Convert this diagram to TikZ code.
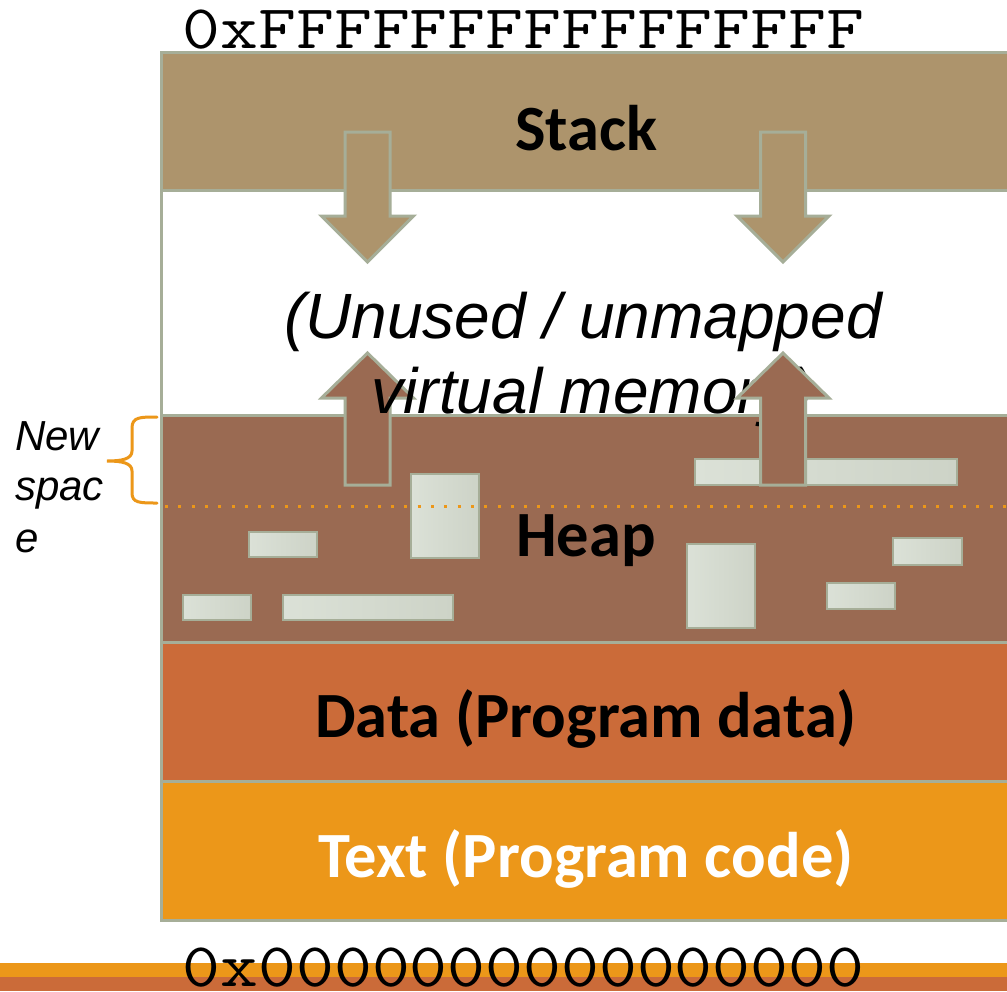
\documentclass[tikz,border=0pt]{standalone}
\usepackage{fontspec}
\newfontfamily\labelfont{Carlito}
\newfontfamily\notefont{Liberation Sans}

\definecolor{framegray}{RGB}{166,174,152}
\definecolor{stacktan}{RGB}{173,148,108}
\definecolor{heapbrown}{RGB}{154,106,82}
\definecolor{datarust}{RGB}{203,107,57}
\definecolor{codeorange}{RGB}{236,151,25}
\definecolor{chunklight}{RGB}{219,225,215}
\definecolor{chunkdark}{RGB}{205,211,199}

\tikzset{
  segment/.style={draw=framegray, line width=3pt},
  seglabel/.style={anchor=base, inner sep=0pt, font=\labelfont\bfseries\fontsize{64.5}{64.5}\selectfont},
  note/.style={anchor=base, inner sep=0pt, font=\notefont\itshape\fontsize{64}{72}\selectfont},
  sidenote/.style={anchor=base west, inner sep=0pt, font=\notefont\itshape\fontsize{42}{42}\selectfont},
  addr/.style={anchor=base, inner sep=0pt},
  chunk/.style={draw=framegray, line width=2.5pt, left color=chunklight, right color=chunkdark},
  blockarrow/.style={draw=framegray, line width=3pt, line join=miter},
  growdown/.pic={
    \path[blockarrow, fill=stacktan]
      (-22.5,0) -- (-22.5,84) -- (-46,84) -- (0,130) -- (46,84) -- (22.5,84) -- (22.5,0) -- cycle;
  },
  growup/.pic={
    \path[blockarrow, fill=heapbrown]
      (-22.5,0) -- (-22.5,-87) -- (-46,-87) -- (0,-132) -- (46,-87) -- (22.5,-87) -- (22.5,0) -- cycle;
  },
}

\newcommand{\addrtext}[1]{\scalebox{1.185}[1]{\fontsize{62}{62}\selectfont\ttfamily #1}}

\begin{document}
\begin{tikzpicture}[x=1pt, y=-1pt]
  \useasboundingbox (0,0) rectangle (1007,991);
  \clip (0,0) rectangle (1007,991);
  \fill[white] (0,0) rectangle (1007,991);

  % address-space column
  \draw[segment, fill=white] (161,52) rectangle (1020,920);
  \draw[segment, fill=stacktan] (161,52) rectangle (1020,190);
  \draw[segment, fill=heapbrown] (161,415) rectangle (1020,642);

  % allocated heap chunks
  \path[chunk] (411,474) rectangle (479,558);
  \path[chunk] (249,532) rectangle (317,557);
  \path[chunk] (183,595) rectangle (251,620);
  \path[chunk] (283,595) rectangle (453,620);
  \path[chunk] (687,544) rectangle (755,628);
  \path[chunk] (827,583) rectangle (895,609);
  \path[chunk] (893,538) rectangle (962,565);
  \path[chunk] (695,459) rectangle (957,485);

  % previous heap boundary
  \draw[codeorange, line width=3pt, dash pattern=on 3pt off 10.3pt] (165,506) -- (1007,506);

  % growth directions
  \pic at (367.5,132) {growdown};
  \pic at (783,132) {growdown};
  \pic at (367.5,485) {growup};

  % free region between stack and heap
  \node[note] (free1) at (583,338) {(Unused / unmapped};
  \node[note] (free2) at (592,413) {virtual memory)};

  \pic at (783,485) {growup};

  \draw[segment, fill=datarust] (161,642) rectangle (1020,781);
  \draw[segment, fill=codeorange] (161,781) rectangle (1020,920);
  \draw[framegray, line width=3pt] (161,52) -- (161,920);

  % segment names
  \node[seglabel] (stack) at (586,150) {Stack};
  \node[seglabel] (heap) at (586,556) {Heap};
  \node[seglabel] (data) at (586,737) {Data (Program data)};
  \node[seglabel, text=white] (code) at (586,877) {Text (Program code)};

  % bottom strip
  \fill[codeorange] (0,963) rectangle (1007,977);
  \fill[datarust] (0,977) rectangle (1007,991);

  % address bounds
  \node[addr] (top) at (523.5,48) {\addrtext{0xFFFFFFFFFFFFFFFF}};
  \node[addr] (bottom) at (523.5,986) {\addrtext{0x0000000000000000}};

  % newly grown heap area
  \draw[codeorange, line width=3pt, line cap=round]
    (157,417) .. controls (140,417) and (132,417) .. (132,428) -- (132,451)
    .. controls (132,459) and (122,461) .. (107,461)
    .. controls (122,461) and (132,463) .. (132,471) -- (132,493)
    .. controls (132,503) and (140,503) .. (157,503);
  \node[sidenote] (new1) at (15,450) {New};
  \node[sidenote] (new2) at (15,500) {spac};
  \node[sidenote] (new3) at (15,552) {e};
\end{tikzpicture}
\end{document}
